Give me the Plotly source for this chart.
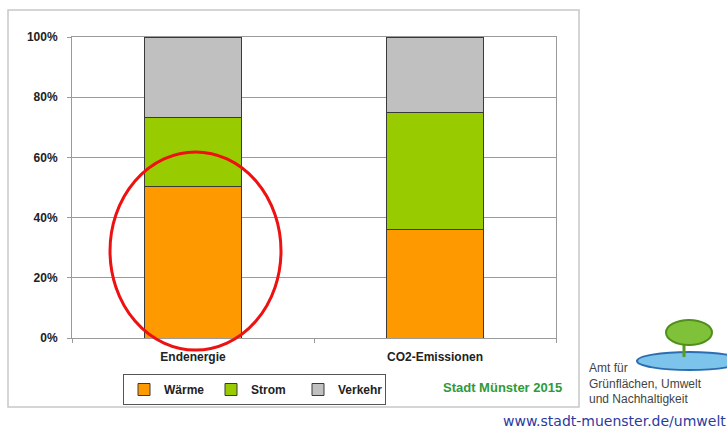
import plotly.graph_objects as go

categories = ["Endenergie", "CO2-Emissionen"]
waerme = [50.5, 36.2]
strom = [22.6, 38.6]
verkehr = [26.9, 25.2]
y_ticks = [0, 20, 40, 60, 80, 100]
y_labels = ["0%", "20%", "40%", "60%", "80%", "100%"]

W, H = 727, 428
L, R, T, B = 72, 556, 37, 338   # plot area in pixels


def px(x):
    return (x - L) / (R - L)


def py(y):
    return (B - y) / (B - T)


font = "Liberation Sans, Arial, sans-serif"
outline = dict(color="#3a3a3a", width=1)

fig = go.Figure()
fig.add_trace(go.Bar(name="Wärme", x=categories, y=waerme,
                     marker=dict(color="#FF9900", line=outline)))
fig.add_trace(go.Bar(name="Strom", x=categories, y=strom,
                     marker=dict(color="#99CC00", line=outline)))
fig.add_trace(go.Bar(name="Verkehr", x=categories, y=verkehr,
                     marker=dict(color="#C0C0C0", line=outline)))

fig.update_layout(
    barmode="stack",
    bargap=0.6,
    width=W, height=H,
    margin=dict(l=L, r=W - R, t=T, b=H - B),
    paper_bgcolor="white",
    plot_bgcolor="white",
    font=dict(family=font, size=11, color="#222"),
    legend=dict(orientation="h", x=px(123), y=py(374), xanchor="left", yanchor="top",
                bordercolor="#555", borderwidth=1, bgcolor="white",
                font=dict(family=font, size=12, color="#222", weight="bold"),
                traceorder="normal", itemwidth=30, entrywidth=42),
    showlegend=True,
)
fig.update_yaxes(range=[0, 100], tickvals=y_ticks, ticktext=y_labels,
                 showgrid=True, gridcolor="#9a9a9a", gridwidth=1,
                 showline=True, linecolor="#9a9a9a", mirror=True,
                 ticks="outside", ticklen=4, tickcolor="#9a9a9a",
                 ticklabelstandoff=7, zeroline=False,
                 tickfont=dict(family=font, size=12, color="#222", weight="bold"))
fig.update_xaxes(showline=True, linecolor="#9a9a9a", mirror=True,
                 ticks="outside", ticklen=4, tickcolor="#9a9a9a", tickson="boundaries",
                 ticklabelstandoff=8,
                 tickfont=dict(family=font, size=12, color="#222", weight="bold"))

shapes = [
    # outer chart frame
    dict(type="rect", xref="paper", yref="paper", x0=px(8), x1=px(579), y0=py(407), y1=py(10),
         line=dict(color="#c8c8c8", width=1.5), layer="below"),
    # red highlight ellipse
    dict(type="circle", xref="paper", yref="paper", x0=px(110), x1=px(281), y0=py(350), y1=py(152),
         line=dict(color="#ee1111", width=3)),
    # pond
    dict(type="circle", xref="paper", yref="paper", x0=px(637), x1=px(742), y0=py(370), y1=py(352),
         fillcolor="#7cc4ec", line=dict(color="#2c6db0", width=2)),
    # trunk
    dict(type="line", xref="paper", yref="paper", x0=px(684), x1=px(684), y0=py(357), y1=py(340),
         line=dict(color="#5a9a20", width=3)),
    # tree crown
    dict(type="circle", xref="paper", yref="paper", x0=px(666), x1=px(712), y0=py(345), y1=py(320),
         fillcolor="#7fc23a", line=dict(color="#4f8f1a", width=2)),
]
fig.update_layout(shapes=shapes)

fig.add_annotation(text="Stadt Münster 2015", xref="paper", yref="paper", x=px(441), y=py(387),
                   xanchor="left", yanchor="middle", showarrow=False,
                   font=dict(family=font, size=13, color="#2e9a3a", weight="bold"))
fig.add_annotation(text="Amt für<br>Grünflächen, Umwelt<br>und Nachhaltigkeit",
                   xref="paper", yref="paper", x=px(587), y=py(359), xanchor="left", yanchor="top",
                   align="left", showarrow=False,
                   font=dict(family="Liberation Sans Narrow, Arial Narrow, " + font, size=12, color="#444"))
fig.add_annotation(text="www.stadt-muenster.de/umwelt", xref="paper", yref="paper",
                   x=px(501), y=py(421), xanchor="left", yanchor="middle", showarrow=False,
                   font=dict(family="DejaVu Sans, sans-serif", size=14, color="#2a3aa0"))

# page body has a default 8px margin; drop it so the figure sits at the window corner
fig.write_html("out.html", config={"displayModeBar": False},
               post_script="document.body.style.margin='0';")
